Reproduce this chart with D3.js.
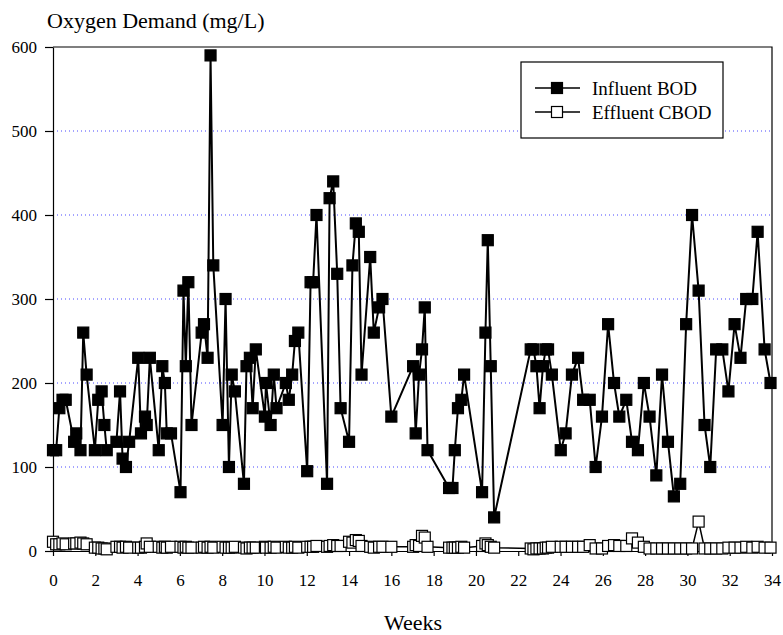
<!DOCTYPE html>
<html>
<head>
<meta charset="utf-8">
<script src="https://d3js.org/d3.v7.min.js"></script>
<style>
  body { margin: 0; background: #fff; }
</style>
</head>
<body>
<div id="chart"></div>
<script>
// sampling times (weeks) - same for both series
var weeks = [0.0,0.15,0.3,0.45,0.6,1.0,1.1,1.3,1.43,1.59,
  1.98,2.14,2.3,2.43,2.54,3.0,3.17,3.29,3.45,3.6,
  4.03,4.16,4.35,4.43,4.58,5.0,5.17,5.29,5.38,5.58,
  6.03,6.17,6.28,6.4,6.55,7.03,7.14,7.31,7.45,7.58,
  8.02,8.16,8.32,8.45,8.6,9.03,9.15,9.31,9.44,9.59,
  10.02,10.07,10.29,10.44,10.57,11.01,11.15,11.31,11.44,11.6,
  12.02,12.18,12.3,12.46,12.96,13.08,13.25,13.44,13.6,14.0,
  14.16,14.32,14.46,14.59,15.0,15.17,15.42,15.58,16.0,17.03,
  17.15,17.31,17.45,17.58,17.71,18.73,18.89,19.0,19.15,19.31,
  19.44,20.29,20.45,20.56,20.7,20.86,22.59,22.72,22.86,23.01,
  23.17,23.3,23.41,23.59,24.01,24.24,24.54,24.83,25.07,25.38,
  25.66,25.96,26.25,26.53,26.78,27.11,27.38,27.66,27.94,28.21,
  28.53,28.8,29.08,29.36,29.66,29.94,30.22,30.53,30.81,31.08,
  31.36,31.65,31.94,32.23,32.51,32.78,33.07,33.32,33.65,33.93];

var influentBOD = [120,120,170,180,180,130,140,120,260,210,
  120,180,190,150,120,130,190,110,100,130,
  230,140,160,150,230,120,220,200,140,140,
  70,310,220,320,150,260,270,230,590,340,
  150,300,100,210,190,80,220,230,170,240,
  160,200,150,210,170,200,180,210,250,260,
  95,320,320,400,80,420,440,330,170,130,
  340,390,380,210,350,260,290,300,160,220,
  140,210,240,290,120,75,75,120,170,180,
  210,70,260,370,220,40,240,240,220,170,
  220,240,240,210,120,140,210,230,180,180,
  100,160,270,200,160,180,130,120,200,160,
  90,210,130,65,80,270,400,310,150,100,
  240,240,190,270,230,300,300,380,240,200];

var effluentCBOD = [11,8,8,9,8,9,9,10,9,8,
  4,4,3,3,2,5,5,4,5,4,
  4,4,5,9,5,5,4,5,4,5,
  5,4,5,4,4,4,5,4,5,4,
  5,4,4,4,5,4,3,4,4,4,
  5,4,4,5,4,5,4,4,5,4,
  5,5,5,6,5,6,7,6,6,11,
  10,13,12,6,5,4,5,5,5,5,
  7,6,18,16,5,4,4,4,4,5,
  4,6,9,7,5,4,3,2,3,3,
  3,4,4,5,5,5,5,5,5,7,
  3,3,6,7,6,6,15,10,5,3,
  3,3,3,3,3,3,3,35,3,3,
  3,3,4,4,4,5,4,5,4,4];

var yTicks = [0,100,200,300,400,500,600];
var gridTicks = [100,200,300,400,500];
var xTicks = d3.range(0, 35, 2);
var seriesNames = ["Influent BOD", "Effluent CBOD"];

var W = 783, H = 635;
var plot = {left: 53, right: 772, top: 47, bottom: 551};
var markSize = 11;
var serif = "'Liberation Serif', 'Times New Roman', Times, serif";

var svg = d3.select("#chart").append("svg")
  .attr("width", W)
  .attr("height", H)
  .attr("font-family", serif);

var x = d3.scaleLinear().domain([0, 34]).range([plot.left, plot.right]);
var y = d3.scaleLinear().domain([0, 600]).range([plot.bottom, plot.top]);

// dotted blue gridlines
svg.append("g").selectAll("line")
  .data(gridTicks)
  .enter().append("line")
  .attr("x1", plot.left).attr("x2", plot.right)
  .attr("y1", function(d){ return y(d); })
  .attr("y2", function(d){ return y(d); })
  .style("stroke", "#4848ff")
  .style("stroke-width", 1)
  .style("stroke-dasharray", "1,3");

// plot frame top + right
svg.append("path")
  .attr("d", "M" + plot.left + "," + plot.top + "H" + plot.right + "V" + plot.bottom)
  .style("fill", "none")
  .style("stroke", "#000")
  .style("stroke-width", 1.2);

var yAxis = svg.append("g")
  .attr("transform", "translate(" + plot.left + ",0)")
  .call(d3.axisLeft(y).tickValues(yTicks).tickSize(8).tickPadding(8).tickSizeOuter(0));

var xAxis = svg.append("g")
  .attr("transform", "translate(0," + plot.bottom + ")")
  .call(d3.axisBottom(x).tickValues(xTicks).tickSize(5).tickPadding(18).tickSizeOuter(0));

[yAxis, xAxis].forEach(function(a){
  a.attr("font-family", serif).attr("font-size", 17);
  a.selectAll("path, line").style("stroke", "#000").style("stroke-width", 1.2);
  a.selectAll("text")
    .style("font-family", serif)
    .style("font-size", "17px")
    .style("fill", "#000");
});

var rows = weeks.map(function(w, i){
  return {w: w, inf: influentBOD[i], eff: effluentCBOD[i]};
});

function drawSeries(key, fill, lineW){
  var line = d3.line()
    .x(function(d){ return x(d.w); })
    .y(function(d){ return y(d[key]); });

  svg.append("path")
    .datum(rows)
    .attr("d", line)
    .style("fill", "none")
    .style("stroke", "#000")
    .style("stroke-width", lineW);

  svg.append("g").selectAll("rect")
    .data(rows)
    .enter().append("rect")
    .attr("x", function(d){ return x(d.w) - markSize/2; })
    .attr("y", function(d){ return y(d[key]) - markSize/2; })
    .attr("width", markSize)
    .attr("height", markSize)
    .style("fill", fill)
    .style("stroke", "#000")
    .style("stroke-width", 1.2);
}

drawSeries("eff", "#fff", 1.5);
drawSeries("inf", "#000", 2);

// axis titles
svg.append("text")
  .attr("x", 47).attr("y", 28)
  .style("font-family", serif)
  .style("font-size", "22px")
  .text("Oxygen Demand (mg/L)");

svg.append("text")
  .attr("x", 413).attr("y", 630)
  .attr("text-anchor", "middle")
  .style("font-family", serif)
  .style("font-size", "22px")
  .text("Weeks");

// legend
var legend = svg.append("g");
legend.append("rect")
  .attr("x", 521).attr("y", 62)
  .attr("width", 202).attr("height", 76)
  .style("fill", "#fff")
  .style("stroke", "#000")
  .style("stroke-width", 1.2);

var entries = legend.selectAll("g.entry")
  .data(seriesNames)
  .enter().append("g")
  .attr("class", "entry")
  .attr("transform", function(d, i){ return "translate(0," + (88 + i*24) + ")"; });

entries.append("line")
  .attr("x1", 535).attr("x2", 580)
  .style("stroke", "#000").style("stroke-width", 1.5);

entries.append("rect")
  .attr("x", 557 - markSize/2).attr("y", -markSize/2)
  .attr("width", markSize).attr("height", markSize)
  .style("fill", function(d, i){ return i == 0 ? "#000" : "#fff"; })
  .style("stroke", "#000").style("stroke-width", 1.2);

entries.append("text")
  .attr("x", 592).attr("dy", "0.35em")
  .style("font-family", serif)
  .style("font-size", "19px")
  .text(function(d){ return d; });
</script>
</body>
</html>
